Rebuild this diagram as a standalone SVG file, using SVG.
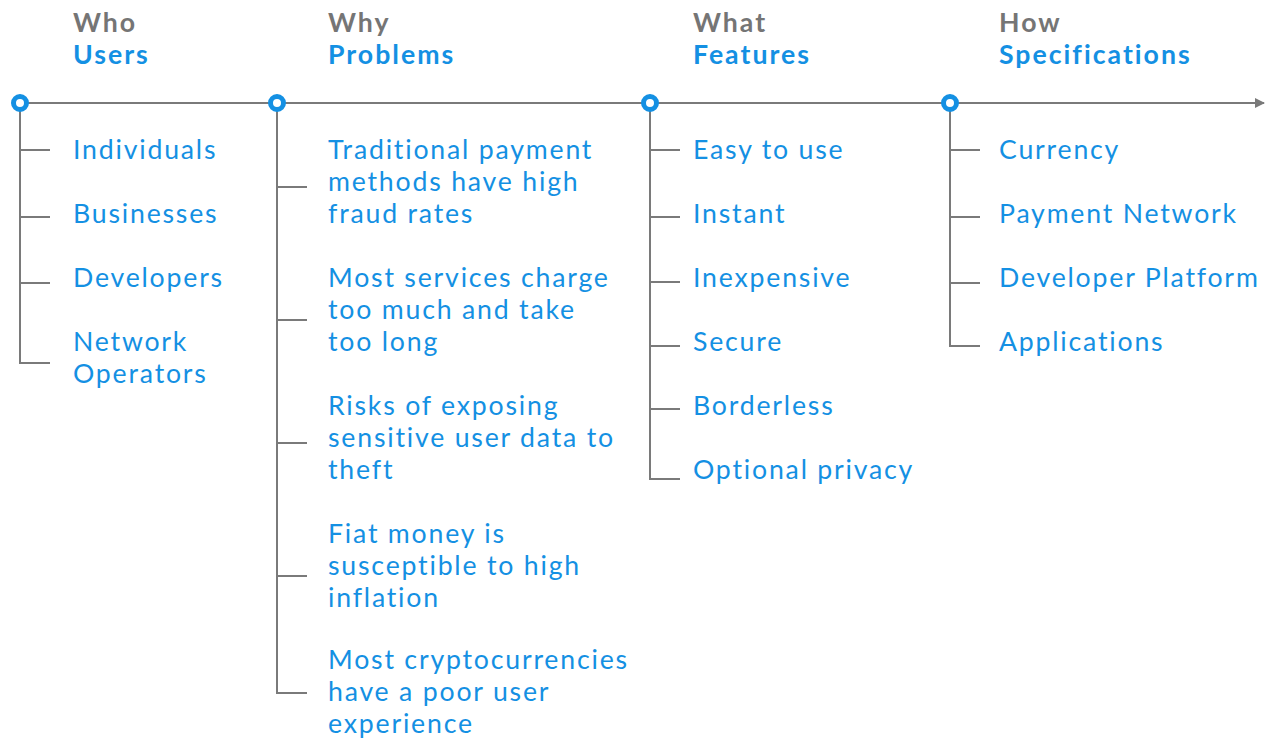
<svg xmlns="http://www.w3.org/2000/svg" width="1265" height="739" viewBox="0 0 1265 739">
  <defs>
    <style>
      .head { font-family: Lato, "Open Sans", sans-serif; font-size: 26.67px; font-weight: 700; fill: #757575; letter-spacing: 2px; }
      .title { font-family: Lato, "Open Sans", sans-serif; font-size: 26.67px; font-weight: 700; fill: #1490e3; letter-spacing: 2px; }
      .item { font-family: Lato, "Open Sans", sans-serif; font-size: 26.67px; font-weight: 400; fill: #1490e3; letter-spacing: 1.8px; }
      .line { stroke: #7a7a7a; stroke-width: 2; fill: none; }
      .dot { fill: #ffffff; stroke: #1490e3; stroke-width: 5; }
    </style>
    <marker id="arrow" viewBox="0 0 10 10" refX="9" refY="5" markerWidth="10" markerHeight="10" markerUnits="userSpaceOnUse" orient="auto">
      <path d="M0,0 L10,5 L0,10 z" fill="#7a7a7a"/>
    </marker>
  </defs>
  <rect width="1265" height="739" fill="#ffffff"/>

  <!-- timeline and branches -->
  <g id="connectors">
    <line class="line" x1="20" y1="103" x2="1264" y2="103" marker-end="url(#arrow)"/>
    <path class="line" d="M20,103 V363 H50 M20,150 H50 M20,217 H50 M20,283 H50"/>
    <path class="line" d="M277,103 V693 H307 M277,187 H307 M277,320 H307 M277,443 H307 M277,576 H307"/>
    <path class="line" d="M650,103 V479 H680 M650,150 H680 M650,217 H680 M650,282 H680 M650,346 H680 M650,409 H680"/>
    <path class="line" d="M950,103 V346 H980 M950,150 H980 M950,217 H980 M950,283 H980"/>
  </g>

  <g id="who">
    <circle class="dot" cx="20" cy="103" r="6.5"/>
    <text class="head" x="73" y="31.7">Who</text>
    <text class="title" x="73" y="63.7">Users</text>
    <text class="item" x="73" y="158.7">Individuals</text>
    <text class="item" x="73" y="222.7">Businesses</text>
    <text class="item" x="73" y="286.7">Developers</text>
    <text class="item" x="73" y="350.7">Network</text>
    <text class="item" x="73" y="382.7">Operators</text>
  </g>

  <g id="why">
    <circle class="dot" cx="277" cy="103" r="6.5"/>
    <text class="head" x="328" y="31.7">Why</text>
    <text class="title" x="328" y="63.7">Problems</text>
    <text class="item" x="328" y="158.7">Traditional payment</text>
    <text class="item" x="328" y="190.7">methods have high</text>
    <text class="item" x="328" y="222.7">fraud rates</text>
    <text class="item" x="328" y="286.7">Most services charge</text>
    <text class="item" x="328" y="318.7">too much and take</text>
    <text class="item" x="328" y="350.7">too long</text>
    <text class="item" x="328" y="414.7">Risks of exposing</text>
    <text class="item" x="328" y="446.7">sensitive user data to</text>
    <text class="item" x="328" y="478.7">theft</text>
    <text class="item" x="328" y="542.7">Fiat money is</text>
    <text class="item" x="328" y="574.7">susceptible to high</text>
    <text class="item" x="328" y="606.7">inflation</text>
    <text class="item" x="328" y="668.5">Most cryptocurrencies</text>
    <text class="item" x="328" y="700.5">have a poor user</text>
    <text class="item" x="328" y="732.5">experience</text>
  </g>

  <g id="what">
    <circle class="dot" cx="650" cy="103" r="6.5"/>
    <text class="head" x="693" y="31.7">What</text>
    <text class="title" x="693" y="63.7">Features</text>
    <text class="item" x="693" y="158.7">Easy to use</text>
    <text class="item" x="693" y="222.7">Instant</text>
    <text class="item" x="693" y="286.7">Inexpensive</text>
    <text class="item" x="693" y="350.7">Secure</text>
    <text class="item" x="693" y="414.7">Borderless</text>
    <text class="item" x="693" y="478.7">Optional privacy</text>
  </g>

  <g id="how">
    <circle class="dot" cx="950" cy="103" r="6.5"/>
    <text class="head" x="999" y="31.7">How</text>
    <text class="title" x="999" y="63.7">Specifications</text>
    <text class="item" x="999" y="158.7">Currency</text>
    <text class="item" x="999" y="222.7">Payment Network</text>
    <text class="item" x="999" y="286.7">Developer Platform</text>
    <text class="item" x="999" y="350.7">Applications</text>
  </g>
</svg>
